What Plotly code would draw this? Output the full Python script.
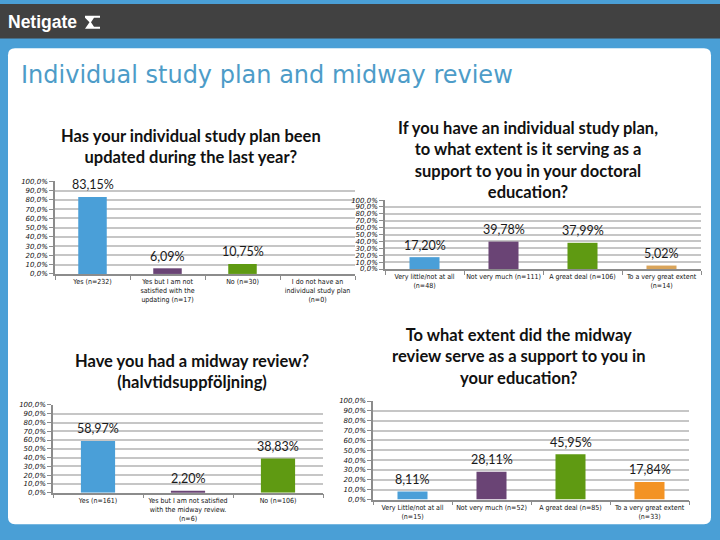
import plotly.graph_objects as go

W, H = 720, 540

# ---------------- data ----------------
q1_title = "Has your individual study plan been<br>updated during the last year?"
q1_cats = ["Yes (n=232)", "Yes but I am not<br>satisfied with the<br>updating (n=17)",
           "No (n=30)", "I do not have an<br>individual study plan<br>(n=0)"]
q1_vals = [83.15, 6.09, 10.75, 0.0]

q2_title = ("If you have an individual study plan,<br>to what extent is it serving as a<br>"
            "support to you in your doctoral<br>education?")
q2_cats = ["Very little/not at all<br>(n=48)", "Not very much (n=111)",
           "A great deal (n=106)", "To a very great extent<br>(n=14)"]
q2_vals = [17.20, 39.78, 37.99, 5.02]

q3_title = "Have you had a midway review?<br>(halvtidsuppföljning)"
q3_cats = ["Yes (n=161)", "Yes but I am not satisfied<br>with the midway review.<br>(n=6)", "No (n=106)"]
q3_vals = [58.97, 2.20, 38.83]

q4_title = "To what extent did the midway<br>review serve as a support to you in<br>your education?"
q4_cats = ["Very Little/not at all<br>(n=15)", "Not very much (n=52)",
           "A great deal (n=85)", "To a very great extent<br>(n=33)"]
q4_vals = [8.11, 28.11, 45.95, 17.84]

y_tickvals = [0, 10, 20, 30, 40, 50, 60, 70, 80, 90, 100]
y_ticktext = ["0,0%", "10,0%", "20,0%", "30,0%", "40,0%", "50,0%",
              "60,0%", "70,0%", "80,0%", "90,0%", "100,0%"]

page_title = "Individual study plan and midway review"
brand = "Netigate"

# ---------------- styling ----------------
BLUE = "#4a9fd8"
PURPLE = "#6a4475"
GREEN = "#5f9a12"
TAN = "#d9a45a"
ORANGE = "#f39324"
BG_BLUE = "#4a9fd6"

q1_colors = [BLUE, PURPLE, GREEN, BLUE]
q2_colors = [BLUE, PURPLE, GREEN, TAN]
q3_colors = [BLUE, PURPLE, GREEN]
q4_colors = [BLUE, PURPLE, GREEN, ORANGE]


def px(x):
    return x / W


def py(y):
    return 1 - y / H


charts = [
    # (title, cats, vals, colors, x0, x1, ytop, ybottom, title_cx, title_cy)
    (q1_title, q1_cats, q1_vals, q1_colors, 55, 355, 180, 274, 191, 145),
    (q2_title, q2_cats, q2_vals, q2_colors, 385, 701, 199, 269, 528, 158),
    (q3_title, q3_cats, q3_vals, q3_colors, 53, 323, 407, 496, 192, 373),
    (q4_title, q4_cats, q4_vals, q4_colors, 373, 689, 403, 503, 519, 358),
]

fig = go.Figure()
annotations = []
layout_axes = {}

LABEL_FONT = dict(family="Lato, Open Sans, sans-serif", size=12.5, color="#1a1a1a")

for i, (title, cats, vals, colors, x0, x1, yt, yb, tcx, tcy) in enumerate(charts):
    n = "" if i == 0 else str(i + 1)
    fig.add_trace(go.Bar(
        x=cats, y=vals, marker=dict(color=colors, line=dict(width=0)),
        width=0.38, xaxis="x" + n, yaxis="y" + n, showlegend=False,
        hoverinfo="skip",
    ))
    for c, v in zip(cats, vals):
        if v > 0:
            annotations.append(dict(
                x=c, y=v, xref="x" + n, yref="y" + n,
                text=f"{v:.2f}%".replace(".", ","), showarrow=False,
                yshift=12, yanchor="middle", font=LABEL_FONT,
            ))
    annotations.append(dict(
        x=px(tcx), y=py(tcy), xref="paper", yref="paper", text="<b>" + title + "</b>",
        showarrow=False, xanchor="center", yanchor="middle",
        font=dict(family="Lato, Open Sans, sans-serif", size=16.5, color="#111111"),
    ))
    layout_axes["xaxis" + n] = dict(
        domain=[px(x0), px(x1)], anchor="y" + n, type="category",
        showgrid=False, zeroline=False, showline=True, linecolor="#8c8c8c", linewidth=1.5,
        ticks="outside", tickson="boundaries", ticklen=4, tickcolor="#8c8c8c",
        tickangle=0,
        tickfont=dict(family="Liberation Sans Narrow, DejaVu Sans Condensed, Roboto, sans-serif",
                      size=7, color="#111111"),
        fixedrange=True,
    )
    layout_axes["yaxis" + n] = dict(
        domain=[py(yb), py(yt)], anchor="x" + n, range=[0, 100],
        tickvals=y_tickvals, ticktext=y_ticktext,
        showgrid=True, gridcolor="#c6c6c6", gridwidth=1.5, zeroline=False,
        showline=True, linecolor="#8c8c8c", linewidth=1.5,
        ticks="outside", ticklen=4, tickcolor="#8c8c8c",
        tickfont=dict(family="DejaVu Sans, sans-serif", size=7, color="#111111", style="italic"),
        fixedrange=True,
    )

# page title and brand
annotations.append(dict(
    x=px(19), y=py(72), xref="paper", yref="paper", text=page_title, showarrow=False,
    xanchor="left", yanchor="middle",
    font=dict(family="DejaVu Sans, Verdana, sans-serif", size=24, color="#4d9cc8"),
))
annotations.append(dict(
    x=px(6), y=py(18), xref="paper", yref="paper", text="<b>" + brand + "</b>", showarrow=False,
    xanchor="left", yanchor="middle",
    font=dict(family="Liberation Sans, Arial, sans-serif", size=17.5, color="#ffffff"),
))

# rounded white panel
L, R, T, B, r = 8, 711, 45, 528, 7
panel = (f"M {px(L + r)} {py(T)} L {px(R - r)} {py(T)} Q {px(R)} {py(T)} {px(R)} {py(T + r)} "
         f"L {px(R)} {py(B - r)} Q {px(R)} {py(B)} {px(R - r)} {py(B)} "
         f"L {px(L + r)} {py(B)} Q {px(L)} {py(B)} {px(L)} {py(B - r)} "
         f"L {px(L)} {py(T + r)} Q {px(L)} {py(T)} {px(L + r)} {py(T)} Z")

# logo mark
logo = (f"M {px(85)} {py(12)} L {px(100)} {py(12)} L {px(100)} {py(14)} L {px(94)} {py(14)} "
        f"L {px(91)} {py(18.5)} L {px(94)} {py(23)} L {px(100)} {py(23)} L {px(100)} {py(25)} "
        f"L {px(85)} {py(25)} L {px(89.5)} {py(18.5)} L {px(85)} {py(14)} Z")

shapes = [
    dict(type="rect", xref="paper", yref="paper", x0=0, x1=1, y0=py(35), y1=1,
         fillcolor="#414141", line=dict(width=0), layer="below"),
    dict(type="path", xref="paper", yref="paper", path=panel,
         fillcolor="#ffffff", line=dict(width=0), layer="below"),
    dict(type="path", xref="paper", yref="paper", path=logo,
         fillcolor="#ffffff", line=dict(width=0), layer="below"),
]

fig.update_layout(
    width=W, height=H, margin=dict(l=0, r=0, t=0, b=0),
    paper_bgcolor=BG_BLUE, plot_bgcolor="rgba(0,0,0,0)",
    annotations=annotations, shapes=shapes, bargap=0.62,
    **layout_axes,
)

fig.write_html(
    "out.html",
    config={"displayModeBar": False},
    post_script="document.body.style.margin='0';document.body.style.overflow='hidden';",
)
